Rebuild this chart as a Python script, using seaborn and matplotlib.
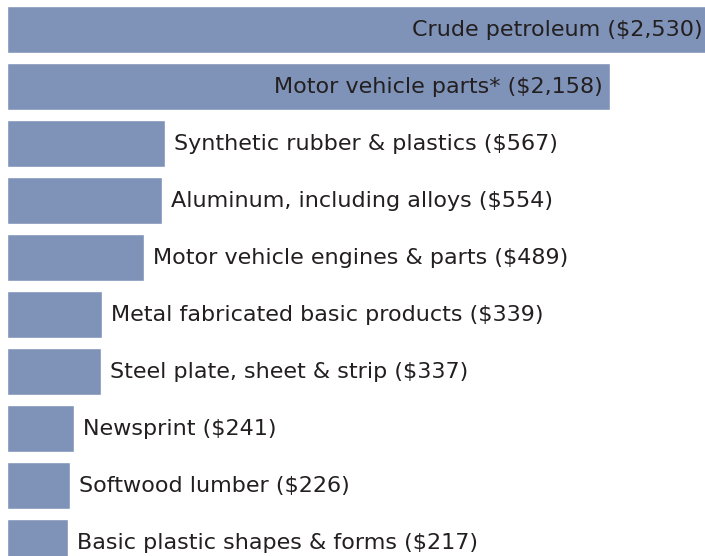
import pandas as pd
import seaborn as sns
import matplotlib.pyplot as plt

products = [
    "Crude petroleum",
    "Motor vehicle parts*",
    "Synthetic rubber & plastics",
    "Aluminum, including alloys",
    "Motor vehicle engines & parts",
    "Metal fabricated basic products",
    "Steel plate, sheet & strip",
    "Newsprint",
    "Softwood lumber",
    "Basic plastic shapes & forms",
]
values = [2530, 2158, 567, 554, 489, 339, 337, 241, 226, 217]

df = pd.DataFrame({"product": products, "value": values})

sns.set_theme(style="white")
plt.rcParams['font.family'] = ['DejaVu Sans']

fig = plt.figure(figsize=(7.05, 5.56), dpi=100)
ax = fig.add_axes([0, 0, 1, 1])

sns.barplot(data=df, y="product", x="value", orient="h", color="#7f92b8",
            saturation=1, width=0.825, ax=ax)

xmax = 2498
ax.set_xlim(-25, xmax)
ax.set_ylim(9.237, -0.5175)
ax.axis("off")

for i, (name, v) in enumerate(zip(products, values)):
    label = f"{name} (${v:,})"
    if v > 1500:
        off = -2 if v > xmax else -7
        ax.annotate(label, (min(v, xmax), i), xytext=(off, -1), textcoords="offset pixels",
                    ha="right", va="center", fontsize=16, color="#231f20")
    else:
        ax.annotate(label, (v, i), xytext=(9, -1), textcoords="offset pixels",
                    ha="left", va="center", fontsize=16, color="#231f20")

plt.savefig("out.png", dpi=100)
